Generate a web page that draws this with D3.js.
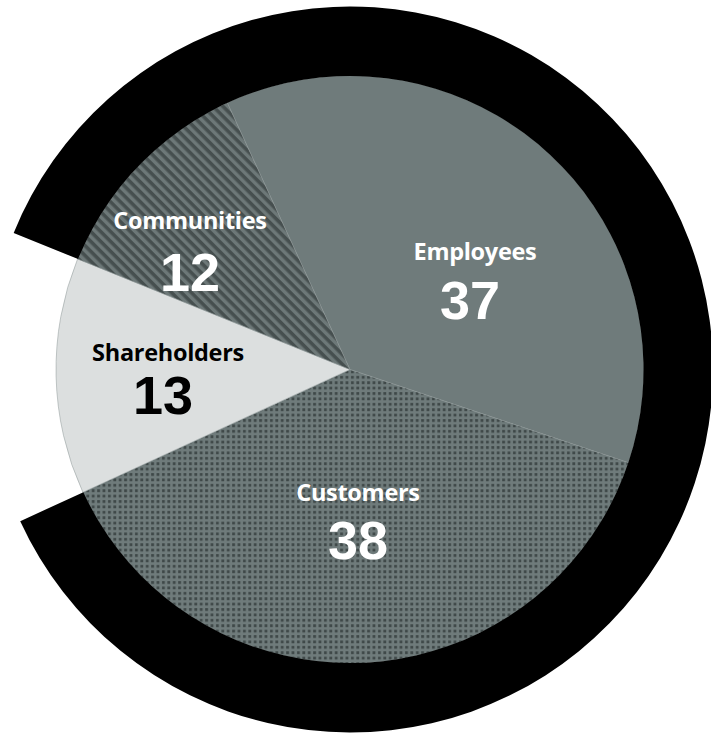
<!DOCTYPE html>
<html>
<head>
<meta charset="utf-8">
<script src="https://cdn.jsdelivr.net/npm/d3@7/dist/d3.min.js"></script>
<style>
html,body{margin:0;padding:0;background:#fff;}
svg{display:block;}
</style>
</head>
<body>
<svg id="chart" width="711" height="734"></svg>
<script>
const categories = ["Employees", "Customers", "Shareholders", "Communities"];
const values = [37, 38, 13, 12];
const valueLabels = ["37", "38", "13", "12"];

const W = 711, H = 734;
const cx = 350, cy = 369.5;
const R = 294, ringOuter = 363;
const startDeg = -24.7;

const svg = d3.select("#chart");
const defs = svg.append("defs");

// Dot pattern (Customers)
const dots = defs.append("pattern").attr("id","dots").attr("patternUnits","userSpaceOnUse")
  .attr("width",5.4).attr("height",5.4);
dots.append("rect").attr("width",5.4).attr("height",5.4).attr("fill","#6f7b7b");
dots.append("rect").attr("x",1).attr("y",1).attr("width",2.8).attr("height",2.8).attr("fill","#3f4848");

// Diagonal stripes (Communities)
const stripes = defs.append("pattern").attr("id","stripes").attr("patternUnits","userSpaceOnUse")
  .attr("width",7).attr("height",7).attr("patternTransform","rotate(-45)");
stripes.append("rect").attr("width",7).attr("height",7).attr("fill","#464f4f");
stripes.append("rect").attr("x",0).attr("width",3).attr("height",7).attr("fill","#6d7878");
stripes.append("rect").attr("x",3).attr("width",0.9).attr("height",7).attr("fill","#5a6464");

const fills = {
  "Employees": "#6f7b7b",
  "Customers": "url(#dots)",
  "Shareholders": "#dcdfdf",
  "Communities": "url(#stripes)"
};
const textColor = {
  "Employees": "#fff", "Customers": "#fff", "Shareholders": "#000", "Communities": "#fff"
};

const data = categories.map((c,i)=>({name:c, value:values[i], label:valueLabels[i]}));
const s0 = startDeg*Math.PI/180;
const pie = d3.pie().value(d=>d.value).sort(null).startAngle(s0).endAngle(s0+2*Math.PI);
const arcs = pie(data);

const g = svg.append("g").attr("transform",`translate(${cx},${cy})`);
const arc = d3.arc().innerRadius(0).outerRadius(R);

g.selectAll("path.slice").data(arcs).enter().append("path")
  .attr("class","slice")
  .attr("d",arc)
  .attr("fill",d=>fills[d.data.name])
  .attr("stroke","#8d9696").attr("stroke-width",0.5);

// Black ring around all slices except Shareholders
const sh = arcs.find(a=>a.data.name==="Shareholders");
const ring = d3.arc().innerRadius(R-0.5).outerRadius(ringOuter)
  .startAngle(sh.endAngle).endAngle(sh.startAngle + 2*Math.PI);
g.append("path").attr("d",ring()).attr("fill","#000");

// Label positions (offsets relative to center)
const labelPos = {
  "Employees":   {lx:125, ly:-110, nx:120, ny:-51},
  "Customers":   {lx:8,   ly:131,  nx:8,   ny:189},
  "Shareholders":{lx:-182,ly:-9,   nx:-187,ny:44},
  "Communities": {lx:-160,ly:-141, nx:-160,ny:-79}
};

const labels = g.selectAll("g.lab").data(arcs).enter().append("g").attr("class","lab");
labels.append("text")
  .attr("x",d=>labelPos[d.data.name].lx).attr("y",d=>labelPos[d.data.name].ly)
  .attr("text-anchor","middle")
  .attr("font-family","'Open Sans', sans-serif").attr("font-weight","bold").attr("font-size",23.5)
  .attr("letter-spacing",-0.3)
  .attr("fill",d=>textColor[d.data.name])
  .text(d=>d.data.name);
labels.append("text")
  .attr("x",d=>labelPos[d.data.name].nx).attr("y",d=>labelPos[d.data.name].ny)
  .attr("text-anchor","middle")
  .attr("font-family","'Liberation Sans', Arial, sans-serif").attr("font-weight","bold").attr("font-size",54)
  .attr("fill",d=>textColor[d.data.name])
  .text(d=>d.data.label);
</script>
</body>
</html>
